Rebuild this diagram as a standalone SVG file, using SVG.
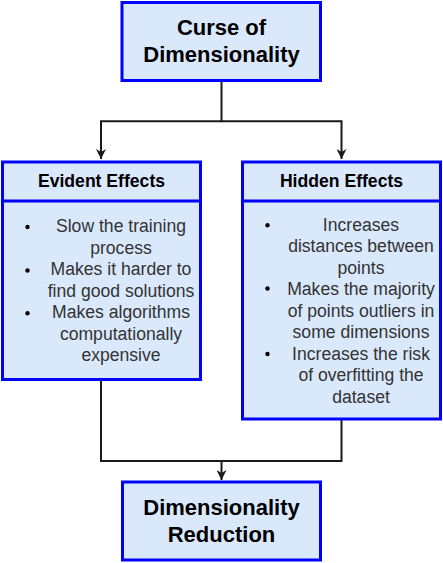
<svg xmlns="http://www.w3.org/2000/svg" width="443" height="563" viewBox="0 0 443 563">
<defs>
<style>
.box{fill:#dae8fc;stroke:#0000ff;stroke-width:3}
.div{stroke:#0000ff;stroke-width:3;fill:none}
.conn{fill:none;stroke:#1a1a1a;stroke-width:2}
.title{font-family:"Liberation Sans",Arial,sans-serif;font-weight:bold;font-size:22px;fill:#000;text-anchor:middle}
.head{font-family:"Liberation Sans",Arial,sans-serif;font-weight:bold;font-size:17.6px;fill:#000;text-anchor:middle}
.body{font-family:"Liberation Sans",Arial,sans-serif;font-size:17.6px;fill:#333333;text-anchor:middle}
.bullet{fill:#000}
</style>
<marker id="arrow" viewBox="0 0 10 10" refX="10" refY="5" markerWidth="10" markerHeight="10" markerUnits="userSpaceOnUse" orient="auto">
<path d="M0,0 L10,5 L0,10 L3,5 Z" fill="#1a1a1a"/>
</marker>
</defs>
<g id="connectors">
<path class="conn" d="M221.5,82 V121.3 H101 V159" marker-end="url(#arrow)"/>
<path class="conn" d="M221.5,121.3 H341.5 V159"  marker-end="url(#arrow)"/>
<path class="conn" d="M101,381 V461 H341.5 V420"/>
<path class="conn" d="M221.5,461 V480" marker-end="url(#arrow)"/>
</g>
<g id="curse">
<rect class="box" x="122" y="2.5" width="198.5" height="78"/>
<text class="title" x="221.5" y="35">Curse of</text>
<text class="title" x="221.5" y="62">Dimensionality</text>
</g>
<g id="evident">
<rect class="box" x="2.5" y="162" width="198" height="217.5"/>
<line class="div" x1="2.5" y1="201" x2="200.5" y2="201"/>
<text class="head" x="101.5" y="186.7">Evident Effects</text>
<circle class="bullet" cx="27.5" cy="227" r="2.2"/>
<circle class="bullet" cx="27.5" cy="270.5" r="2.2"/>
<circle class="bullet" cx="27.5" cy="313.3" r="2.2"/>
<text class="body" x="121"><tspan x="121" y="232">Slow the training</tspan><tspan x="121" y="253.5">process</tspan><tspan x="121" y="275">Makes it harder to</tspan><tspan x="121" y="296.5">find good solutions</tspan><tspan x="121" y="318">Makes algorithms</tspan><tspan x="121" y="339.5">computationally</tspan><tspan x="121" y="361">expensive</tspan></text>
</g>
<g id="hidden">
<rect class="box" x="242.5" y="162" width="198" height="257"/>
<line class="div" x1="242.5" y1="201" x2="440.5" y2="201"/>
<text class="head" x="341.5" y="186.7">Hidden Effects</text>
<circle class="bullet" cx="267.5" cy="225.2" r="2.2"/>
<circle class="bullet" cx="267.5" cy="288.5" r="2.2"/>
<circle class="bullet" cx="267.5" cy="354" r="2.2"/>
<text class="body" x="361"><tspan x="361" y="230.7">Increases</tspan><tspan x="361" y="252.2">distances between</tspan><tspan x="361" y="273.7">points</tspan><tspan x="361" y="295.2">Makes the majority</tspan><tspan x="361" y="316.7">of points outliers in</tspan><tspan x="361" y="338.2">some dimensions</tspan><tspan x="361" y="359.7">Increases the risk</tspan><tspan x="361" y="381.2">of overfitting the</tspan><tspan x="361" y="402.7">dataset</tspan></text>
</g>
<g id="reduction">
<rect class="box" x="122.5" y="482" width="198" height="78"/>
<text class="title" x="221.5" y="515">Dimensionality</text>
<text class="title" x="221.5" y="541.7">Reduction</text>
</g>
</svg>
